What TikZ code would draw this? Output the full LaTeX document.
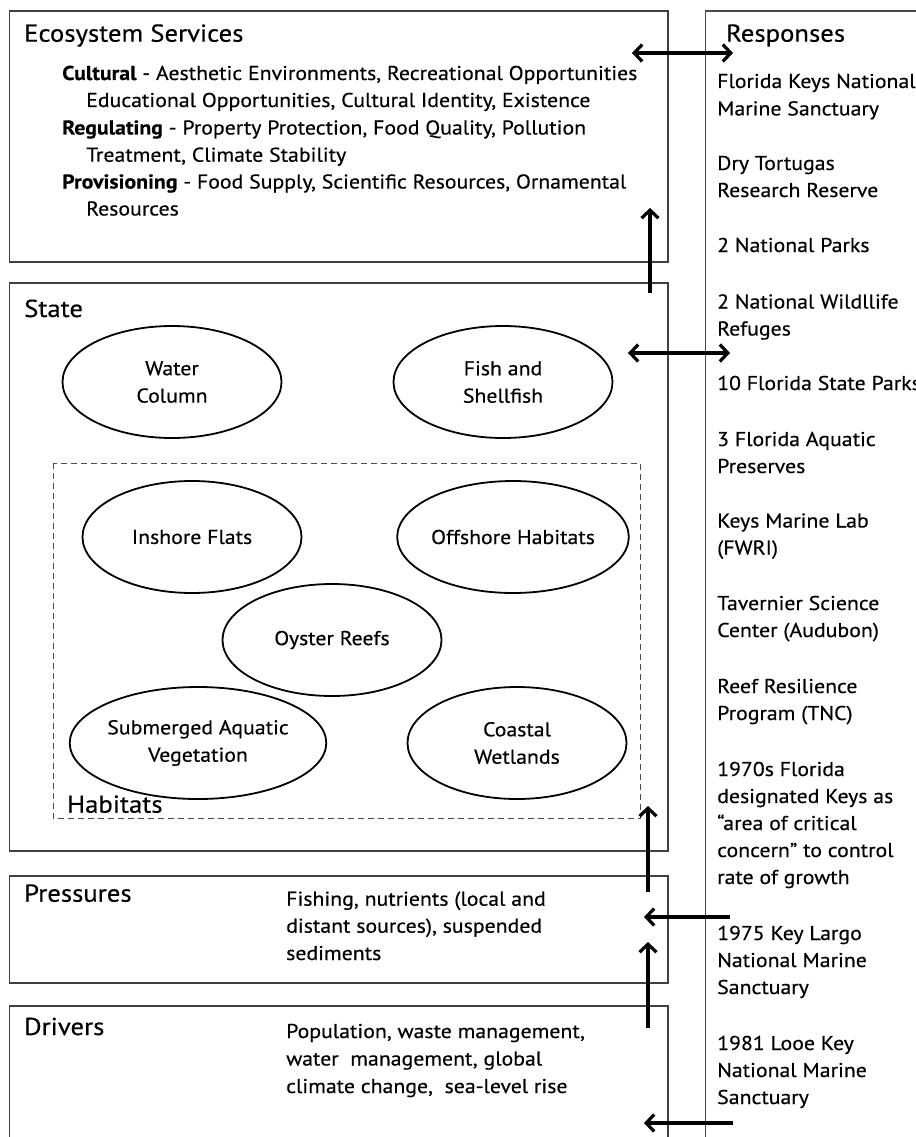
\documentclass[tikz,border=0pt]{standalone}
\usepackage{fontspec}
\setmainfont{PT Sans}[FakeStretch=1.09,FakeBold=0.4]
\usetikzlibrary{shapes.geometric,arrows.meta}
\newcommand{\bodyfs}{\fontsize{20}{27.4}\selectfont}
\newcommand{\titlefs}{\fontsize{24.5}{27}\selectfont}
\begin{document}
\begin{tikzpicture}[x=1pt,y=-1pt,
 frame/.style={draw=black!75, line width=1.1pt, inner sep=0pt, outer sep=0pt, anchor=north west},
 habit/.style={ellipse, draw=black, line width=1.8pt, inner sep=0pt, minimum width=219pt, minimum height=112pt, align=center, font=\bodyfs},
 body/.style={anchor=base west, inner sep=0pt, font=\bodyfs},
 ttl/.style={anchor=base west, inner sep=0pt, font=\titlefs},
 arr/.style={line width=3.2pt, -{Straight Barb[length=8pt,width=17pt]}},
 darr/.style={line width=3.2pt, {Straight Barb[length=8pt,width=17pt]}-{Straight Barb[length=8pt,width=17pt]}},
]
\useasboundingbox (0,0) rectangle (915,1137);

% frames
\node[frame, minimum width=658.5pt, minimum height=251pt] (es) at (9.5,11) {};
\node[frame, minimum width=658.5pt, minimum height=568pt] (state) at (9.5,283) {};
\node[frame, minimum width=658.5pt, minimum height=107pt] (press) at (9.5,876) {};
\draw[draw=black!75, line width=1.1pt] (9.5,1145) |- (668,1006) -- (668,1145);
\draw[draw=black!70, line width=1.1pt] (705.5,1145) |- (925,11);
\draw[draw=black!70, line width=1pt, dash pattern=on 6pt off 4pt] (53,463) rectangle (640,818);

% Ecosystem services text
\node[ttl] (est) at (24,41.7) {Ecosystem Services};
\node[body] (e1) at (62,80) {\textbf{Cultural} - Aesthetic Environments, Recreational Opportunities};
\node[body] (e2) at (86,107) {Educational Opportunities, Cultural Identity, Existence};
\node[body] (e3) at (62,134.5) {\textbf{Regulating} - Property Protection, Food Quality, Pollution};
\node[body] (e4) at (86,161.7) {Treatment, Climate Stability};
\node[body] (e5) at (62,188.5) {\textbf{Provisioning} - Food Supply, Scientific Resources, Ornamental};
\node[body] (e6) at (86,215.5) {Resources};

% State
\node[ttl] (stt) at (24,317) {State};
\node[habit] (wc) at (172,382) {Water\\Column};
\node[habit] (fs) at (503,382) {Fish and\\Shellfish};
\node[habit] (inf) at (192,537) {Inshore Flats};
\node[habit] (off) at (513,537) {Offshore Habitats};
\node[habit] (oys) at (332,640) {Oyster Reefs};
\node[habit] (sav) at (198,743) {Submerged Aquatic\\Vegetation};
\node[habit] (cw) at (517,743) {Coastal\\Wetlands};
\node[ttl] (hab) at (67,812.7) {Habitats};

% Pressures and drivers
\node[ttl] (prt) at (24,901.7) {Pressures};
\node[body] (p1) at (286,905.7) {Fishing, nutrients (local and};
\node[body] (p2) at (286,932.7) {distant sources), suspended};
\node[body] (p3) at (286,960) {sediments};
\node[ttl] (drt) at (24,1035) {Drivers};
\node[body] (d1) at (286,1038) {Population, waste management,};
\node[body] (d2) at (286,1065.5) {water~ management, global};
\node[body] (d3) at (286,1093) {climate change,~ sea-level rise};

% Responses
\node[ttl] (rt) at (726,41.7) {Responses};
\node[body] (r1a) at (717,88) {Florida Keys National};
\node[body] (r1b) at (717,115.4) {Marine Sanctuary};
\node[body] (r2a) at (717,170) {Dry Tortugas};
\node[body] (r2b) at (717,197) {Research Reserve};
\node[body] (r3) at (717,252) {2 National Parks};
\node[body] (r4a) at (717,308.5) {2 National Wildllife};
\node[body] (r4b) at (717,335.5) {Refuges};
\node[body] (r5) at (717,390) {10 Florida State Parks};
\node[body] (r6a) at (717,446) {3 Florida Aquatic};
\node[body] (r6b) at (717,473) {Preserves};
\node[body] (r7a) at (717,527.5) {Keys Marine Lab};
\node[body] (r7b) at (717,554.5) {(FWRI)};
\node[body] (r8a) at (717,610) {Tavernier Science};
\node[body] (r8b) at (717,637) {Center (Audubon)};
\node[body] (r9a) at (717,693) {Reef Resilience};
\node[body] (r9b) at (717,720) {Program (TNC)};
\node[body] (r10a) at (717,776) {1970s Florida};
\node[body] (r10b) at (717,803) {designated Keys as};
\node[body] (r10c) at (717,830) {“area of critical};
\node[body] (r10d) at (717,857) {concern” to control};
\node[body] (r10e) at (717,884) {rate of growth};
\node[body] (r11a) at (717,940) {1975 Key Largo};
\node[body] (r11b) at (717,967) {National Marine};
\node[body] (r11c) at (717,994) {Sanctuary};
\node[body] (r12a) at (717,1050) {1981 Looe Key};
\node[body] (r12b) at (717,1077) {National Marine};
\node[body] (r12c) at (717,1104) {Sanctuary};

% connectors
\coordinate (a1l) at (632,53); \coordinate (a1r) at (733,53);
\draw[darr] (a1l) -- (a1r);
\coordinate (a2l) at (628,353); \coordinate (a2r) at (730,353);
\draw[darr] (a2l) -- (a2r);
\coordinate (v1b) at (650,293); \coordinate (v1t) at (650,208);
\draw[arr] (v1b) -- (v1t);
\coordinate (v2b) at (648,892); \coordinate (v2t) at (648,806);
\draw[arr] (v2b) -- (v2t);
\coordinate (v3b) at (648,1028); \coordinate (v3t) at (648,942);
\draw[arr] (v3b) -- (v3t);
\coordinate (h1r) at (730,917); \coordinate (h1l) at (644,917);
\draw[arr] (h1r) -- (h1l);
\coordinate (h2r) at (733,1123); \coordinate (h2l) at (644,1123);
\draw[arr] (h2r) -- (h2l);
\end{tikzpicture}
\end{document}
